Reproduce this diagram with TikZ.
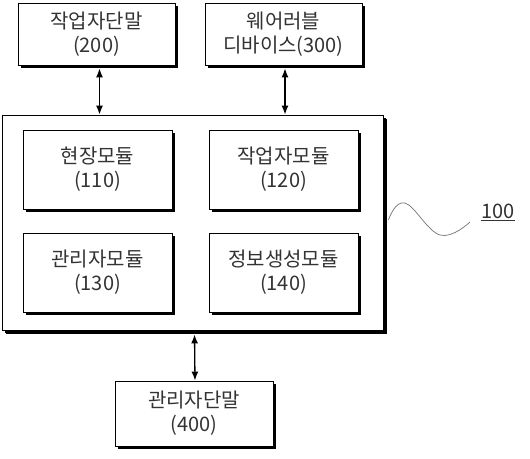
\documentclass[tikz,border=0pt]{standalone}
\usepackage{fontspec}
\newfontfamily\kr{Noto Sans CJK KR}
\usepackage{tikz}
\usetikzlibrary{
    arrows.meta,
    calc,
    shadows
}

\tikzset{
    blockbox/.style={draw, line width=0.9pt, fill=white, align=center,
        inner sep=0pt, text=black!80,
        font=\kr\fontsize{20}{24}\selectfont,
        copy shadow={shadow xshift=3pt, shadow yshift=-3pt, fill=black, draw=none}},
    link/.style={line width=1.3pt, {Latex[length=9pt,width=7pt]}-{Latex[length=9pt,width=7pt]}}
}

\begin{document}
\begin{tikzpicture}[x=1pt, y=1pt]
        % Frame of the picture
        \useasboundingbox (0,0) rectangle (530,458);
        
        % Outer system block
        \node[blockbox, minimum width=381pt, minimum height=215pt,
            copy shadow={shadow xshift=4pt, shadow yshift=-4pt, fill=black, draw=none}]
            (sys) at (192.5,235.5) {};
        
        % Modules inside the system
        \node[blockbox, minimum width=149pt, minimum height=79pt] (m110) at (97.5,288.5) {현장모듈\\(110)};
        \node[blockbox, minimum width=149pt, minimum height=79pt] (m120) at (283.5,288.5) {작업자모듈\\(120)};
        \node[blockbox, minimum width=149pt, minimum height=79pt] (m130) at (97.5,185.5) {관리자모듈\\(130)};
        \node[blockbox, minimum width=149pt, minimum height=79pt] (m140) at (283.5,185.5) {정보생성모듈\\(140)};
        
        % Terminals around the system
        \node[blockbox, minimum width=157pt, minimum height=62pt] (t200) at (96.5,424) {작업자단말\\(200)};
        \node[blockbox, minimum width=157pt, minimum height=62pt] (t300) at (283.5,424) {웨어러블\\디바이스(300)};
        \node[blockbox, minimum width=158pt, minimum height=65pt] (t400) at (194,44.5) {관리자단말\\(400)};
        
        % Two-way links
        \draw[link] ($(t200.south)+(3,-3)$) -- ($(t200.south |- sys.north)+(3,0)$);
        \draw[link] ($(t300.south)+(1.5,-3)$) -- ($(t300.south |- sys.north)+(1.5,0)$);
        \draw[link] ($(sys.south)+(2,-4)$) -- ($(t400.north)+(1,0)$);
        
        % Reference mark
        \coordinate (squig) at ($(sys.east)+(5,2.5)$);
        \draw[black!55, line width=0.7pt] plot[smooth, tension=0.7] coordinates
            {(squig) (405,255) (440,223) (470,236)};
        \node[font=\kr\fontsize{20}{24}\selectfont, text=black!80] (lbl) at (498,246) {\underline{100}};
    \end{tikzpicture}
\end{document}
